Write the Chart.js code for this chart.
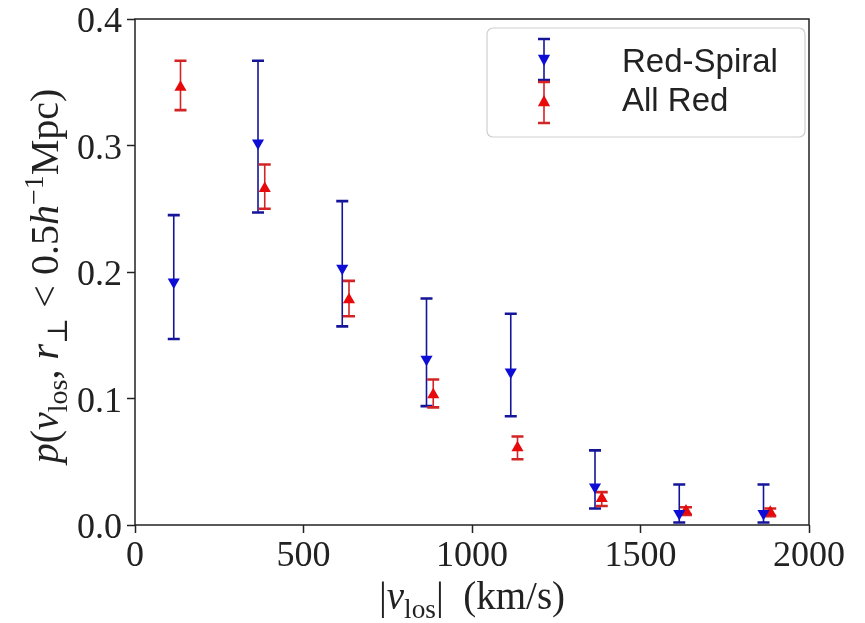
<!DOCTYPE html>
<html>
<head>
<meta charset="utf-8">
<script src="https://cdn.jsdelivr.net/npm/chart.js@4"></script>
<style>
  html, body { margin: 0; padding: 0; background: #fff; }
  #wrap { width: 865px; height: 623px; position: relative; }
</style>
</head>
<body>
<div id="wrap"><canvas id="plot"></canvas></div>
<script>
// Red-Spiral (blue, down triangles)
const rsX = [115, 365, 615, 865, 1115, 1365, 1615, 1865];
const rsY = [0.192, 0.302, 0.203, 0.131, 0.121, 0.030, 0.009, 0.009];
const rsLo = [0.147, 0.247, 0.157, 0.094, 0.086, 0.013, 0.002, 0.002];
const rsHi = [0.245, 0.367, 0.256, 0.179, 0.167, 0.059, 0.032, 0.032];

// All Red (red, up triangles)
const arX = [135, 385, 635, 885, 1135, 1385, 1635, 1885];
const arY = [0.346, 0.266, 0.178, 0.103, 0.061, 0.021, 0.011, 0.010];
const arLo = [0.328, 0.250, 0.165, 0.093, 0.052, 0.015, 0.008, 0.007];
const arHi = [0.367, 0.285, 0.193, 0.115, 0.070, 0.026, 0.014, 0.013];

const seriesNames = ['Red-Spiral', 'All Red'];
const xTicks = [0, 500, 1000, 1500, 2000];
const yTicks = [0.0, 0.1, 0.2, 0.3, 0.4];

const SERIF = '"Liberation Serif", "DejaVu Serif", serif';
const SANS = '"Liberation Sans", "DejaVu Sans", sans-serif';
const INK = '#222';

const styles = [
    { marker: '#0d0dd6', bar: '#15159a', rot: 180 },
    { marker: '#e80a0a', bar: '#d22424', rot: 0 },
];

function pts(xs, ys) {
    return xs.map((x, i) => ({ x, y: ys[i] }));
}

// text made of roman / italic / sub / sup pieces
function fontFor(k, size) {
    const s = (k === 'sub' || k === 'sup') ? size * 0.7 : size;
    const it = k === 'i' ? 'italic ' : '';
    return `${it}${s}px ${SERIF}`;
}
function richWidth(ctx, parts, size) {
    let w = 0;
    for (const [t, k] of parts) {
        ctx.font = fontFor(k, size);
        w += ctx.measureText(t).width;
    }
    return w;
}
function drawRich(ctx, parts, size, cx, cy) {
    let x = cx - richWidth(ctx, parts, size) / 2;
    ctx.textBaseline = 'alphabetic';
    ctx.textAlign = 'left';
    for (const [t, k] of parts) {
        ctx.font = fontFor(k, size);
        let dy = 0;
        if (k === 'sub') dy = size * 0.22;
        if (k === 'sup') dy = -size * 0.38;
        ctx.fillText(t, x, cy + dy);
        x += ctx.measureText(t).width;
    }
}

const xTitle = [['|', 'r'], ['v', 'i'], ['los', 'sub'], ['|  (km/s)', 'r']];
const yTitle = [['p', 'i'], ['(', 'r'], ['v', 'i'], ['los', 'sub'], [', ', 'r'], ['r', 'i'], ['\u22A5', 'sub'],
    [' < 0.5', 'r'], ['h', 'i'], ['\u22121', 'sup'], ['Mpc)', 'r']];

function errBar(ctx, x, yLo, yHi, color) {
    ctx.strokeStyle = color;
    ctx.lineWidth = 1.6;
    ctx.beginPath();
    ctx.moveTo(x, yLo);
    ctx.lineTo(x, yHi);
    ctx.stroke();
    ctx.lineWidth = 2.6;
    ctx.beginPath();
    ctx.moveTo(x - 6, yLo); ctx.lineTo(x + 6, yLo);
    ctx.moveTo(x - 6, yHi); ctx.lineTo(x + 6, yHi);
    ctx.stroke();
}

function triangle(ctx, x, y, r, rot, color) {
    ctx.save();
    ctx.translate(x, y);
    ctx.rotate(rot * Math.PI / 180);
    ctx.fillStyle = color;
    ctx.beginPath();
    ctx.moveTo(0, -r);
    ctx.lineTo(r * 0.87, r * 0.6);
    ctx.lineTo(-r * 0.87, r * 0.6);
    ctx.closePath();
    ctx.fill();
    ctx.restore();
}

const errLo = [rsLo, arLo];
const errHi = [rsHi, arHi];

const extras = {
    id: 'extras',
    beforeDatasetsDraw(chart) {
        const { ctx, scales: { x, y } } = chart;
        ctx.save();
        chart.data.datasets.forEach((ds, d) => {
            ds.data.forEach((p, i) => {
                errBar(ctx, x.getPixelForValue(p.x), y.getPixelForValue(errLo[d][i]),
                    y.getPixelForValue(errHi[d][i]), styles[d].bar);
            });
        });
        ctx.restore();
    },
    afterDraw(chart) {
        const { ctx, chartArea: a } = chart;
        ctx.save();
        // frame
        ctx.strokeStyle = INK;
        ctx.lineWidth = 1.5;
        ctx.strokeRect(a.left, a.top, a.right - a.left, a.bottom - a.top);

        // axis titles
        ctx.fillStyle = INK;
        drawRich(ctx, xTitle, 39, (a.left + a.right) / 2, 609);
        ctx.save();
        ctx.translate(58, 276);
        ctx.rotate(-Math.PI / 2);
        drawRich(ctx, yTitle, 40, 0, 0);
        ctx.restore();

        // legend
        const lx = 487, ly = 28, lw = 318, lh = 109;
        ctx.fillStyle = 'rgba(255,255,255,0.85)';
        ctx.strokeStyle = '#cfcfcf';
        ctx.lineWidth = 1.2;
        ctx.beginPath();
        ctx.roundRect(lx, ly, lw, lh, 6);
        ctx.fill();
        ctx.stroke();
        const rows = [59, 102];
        rows.forEach((cy, d) => {
            errBar(ctx, 544, cy - 20, cy + 21, styles[d].bar);
            triangle(ctx, 544, cy, 7, styles[d].rot, styles[d].marker);
        });
        ctx.fillStyle = INK;
        ctx.font = `33px ${SANS}`;
        ctx.textAlign = 'left';
        ctx.textBaseline = 'alphabetic';
        ctx.fillText(seriesNames[0], 622, 72);
        ctx.fillText(seriesNames[1], 622, 111);
        ctx.restore();
    },
};

new Chart(document.getElementById('plot'), {
    type: 'scatter',
    data: {
        datasets: [
            {
                label: seriesNames[0],
                data: pts(rsX, rsY),
                pointStyle: 'triangle',
                rotation: 180,
                pointRadius: 7,
                backgroundColor: styles[0].marker,
                borderColor: styles[0].marker,
                borderWidth: 0,
            },
            {
                label: seriesNames[1],
                data: pts(arX, arY),
                pointStyle: 'triangle',
                rotation: 0,
                pointRadius: 7,
                backgroundColor: styles[1].marker,
                borderColor: styles[1].marker,
                borderWidth: 0,
            },
        ],
    },
    options: {
        responsive: true,
        maintainAspectRatio: false,
        animation: false,
        layout: { padding: { top: 19, right: 56, left: 0, bottom: 0 } },
        plugins: {
            legend: { display: false },
            tooltip: { enabled: false },
        },
        scales: {
            x: {
                type: 'linear',
                min: 0,
                max: 2000,
                afterBuildTicks: (s) => { s.ticks = xTicks.map((v) => ({ value: v })); },
                afterFit: (s) => { s.height = 98; s.paddingLeft = 0; s.paddingRight = 0; },
                ticks: {
                    color: INK,
                    font: { family: SERIF, size: 36 },
                    padding: 2,
                    maxRotation: 0,
                    callback: (v) => String(v),
                },
                grid: { drawOnChartArea: false, tickLength: 8, tickColor: INK, tickWidth: 1.5 },
                border: { display: false },
            },
            y: {
                type: 'linear',
                min: 0,
                max: 0.4,
                afterBuildTicks: (s) => { s.ticks = yTicks.map((v) => ({ value: v })); },
                afterFit: (s) => { s.width = 135; s.paddingTop = 0; s.paddingBottom = 0; },
                ticks: {
                    color: INK,
                    font: { family: SERIF, size: 36 },
                    padding: 5,
                    labelOffset: 4,
                    callback: (v) => Number(v).toFixed(1),
                },
                grid: { drawOnChartArea: false, tickLength: 8, tickColor: INK, tickWidth: 1.5 },
                border: { display: false },
            },
        },
    },
    plugins: [extras],
});
</script>
</body>
</html>
